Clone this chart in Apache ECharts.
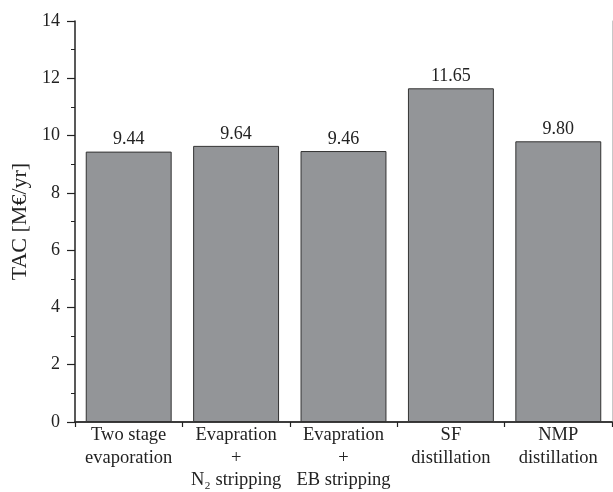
<!DOCTYPE html>
<html>
<head>
<meta charset="utf-8">
<script src="https://cdn.jsdelivr.net/npm/echarts@6/dist/echarts.min.js"></script>
<style>
  html, body { margin: 0; padding: 0; background: #fff; }
  #chart { width: 613px; height: 492px; }
</style>
</head>
<body>
<div id="chart"></div>
<script>
// Process options and their total annual cost
const categories = [
  'Two stage\nevaporation',
  'Evapration\n+\nN\u2082 stripping',
  'Evapration\n+\nEB stripping',
  'SF\ndistillation',
  'NMP\ndistillation'
];
const tacValues = [9.44, 9.64, 9.46, 11.65, 9.80];
const yTicks = { min: 0, max: 14, interval: 2 };

const FONT = '"Liberation Serif", "DejaVu Serif", serif';
const INK = '#222';

const chart = echarts.init(document.getElementById('chart'), null, { renderer: 'canvas' });

chart.setOption({
  animation: false,
  backgroundColor: '#fff',
  grid: { left: 75, right: 1, top: 21, bottom: 70, containLabel: false },
  xAxis: [
    {
      type: 'category',
      data: categories,
      axisLine: { show: true, lineStyle: { color: INK, width: 1.5 } },
      axisTick: { show: true, length: 5, lineStyle: { color: INK, width: 1.2 } },
      axisLabel: {
        color: INK, fontFamily: FONT, fontSize: 18.5, lineHeight: 22.5,
        margin: 2, interval: 0
      },
      splitLine: { show: false }
    },
    {
      // top frame line
      type: 'category',
      data: categories,
      position: 'top',
      axisLine: { show: true, lineStyle: { color: '#333', width: 1.5 } },
      axisTick: { show: false },
      axisLabel: { show: false },
      splitLine: { show: false }
    }
  ],
  yAxis: [
    {
      type: 'value',
      min: yTicks.min,
      max: yTicks.max,
      interval: yTicks.interval,
      name: 'TAC [M\u20ac/yr]',
      nameLocation: 'middle',
      nameGap: 44,
      nameTextStyle: { color: INK, fontFamily: FONT, fontSize: 22 },
      axisLine: { show: true, lineStyle: { color: INK, width: 1.5 } },
      axisTick: { show: true, length: 8, lineStyle: { color: INK, width: 1.2 } },
      minorTick: { show: true, splitNumber: 2, length: 4, lineStyle: { color: INK, width: 1 } },
      axisLabel: { color: INK, fontFamily: FONT, fontSize: 18, margin: 15 },
      splitLine: { show: false }
    },
    {
      // right frame line
      type: 'value',
      min: yTicks.min,
      max: yTicks.max,
      interval: yTicks.interval,
      position: 'right',
      axisLine: { show: true, lineStyle: { color: '#c8c8c8', width: 1 } },
      axisTick: { show: false },
      axisLabel: { show: false },
      splitLine: { show: false }
    }
  ],
  series: [
    {
      type: 'bar',
      data: tacValues,
      barCategoryGap: '20%',
      itemStyle: { color: '#939598', borderColor: '#333', borderWidth: 1 },
      label: {
        show: true,
        position: 'top',
        distance: 3,
        color: INK,
        fontFamily: FONT,
        fontSize: 18,
        formatter: (p) => p.value.toFixed(2)
      }
    }
  ]
});
</script>
</body>
</html>
